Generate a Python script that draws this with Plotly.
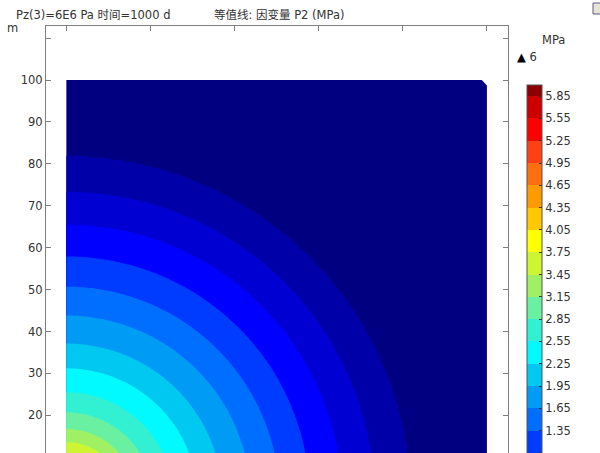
import numpy as np
import plotly.graph_objects as go

# P2 profile: radius from the corner (m) where each contour level sits
radius_m = [0.0, 10.5, 13.6, 16.7, 20.7, 25.5, 31.2, 37.1, 43.8, 50.7, 57.9, 65.5, 73.3, 81.7, 142.0]
p2_mpa = [6.0, 3.75, 3.45, 3.15, 2.85, 2.55, 2.25, 1.95, 1.65, 1.35, 1.05, 0.75, 0.45, 0.15, 0.0]

# contour levels shown on the colour bar
levels = [round(0.15 + 0.3 * i, 2) for i in range(20)]
level_labels = ['%.2f' % v for v in levels]

# band colours, lowest band (< 0.15) to highest (> 5.85)
band_colors = [
    (0, 0, 128), (0, 0, 168), (0, 0, 210), (0, 0, 255), (0, 60, 255),
    (0, 110, 255), (0, 155, 245), (0, 200, 240), (0, 250, 255), (50, 240, 210),
    (105, 240, 160), (160, 240, 100), (205, 245, 50), (255, 255, 0), (255, 200, 0),
    (255, 155, 0), (255, 110, 15), (255, 65, 20), (255, 0, 0), (205, 0, 0),
    (140, 0, 0),
]

y_ticks = [10, 20, 30, 40, 50, 60, 70, 80, 90, 100, 110]
y_ticktext = ['10', '20', '30', '40', '50', '60', '70', '80', '90', '100', '']
x_ticks = [0, 20, 40, 60, 80, 100]

# grid over the 100 x 100 m domain
xs = np.linspace(0, 100, 201)
ys = np.linspace(0, 100, 201)
X, Y = np.meshgrid(xs, ys)
Z = np.interp(np.hypot(X, Y), radius_m, p2_mpa)

n = len(band_colors) - 1
colorscale = [[i / n, 'rgb(%d,%d,%d)' % c] for i, c in enumerate(band_colors)]

W, H = 600, 453
ML, MR, MT, MB = 46, 92, 26, 0
PW, PH = W - ML - MR, H - MT - MB


def px(x):
    return (x - ML) / PW


def py(y):
    return (H - MB - y) / PH


font = 'DejaVu Sans, Noto Sans CJK SC, sans-serif'
txt = '#333333'

fig = go.Figure(go.Contour(
    x=xs, y=ys, z=Z,
    zmin=0, zmax=6,
    colorscale=colorscale,
    contours=dict(start=levels[0], end=levels[-1], size=0.3,
                  coloring='fill', showlines=False),
    line=dict(width=0),
    hoverinfo='skip',
    colorbar=dict(
        x=px(527), xanchor='left', xpad=0,
        y=py(85), yanchor='top', ypad=0,
        len=446, lenmode='pixels', thickness=15,
        outlinewidth=1, outlinecolor='#555555',
        tickvals=levels, ticktext=level_labels,
        ticks='inside', ticklen=3, tickcolor='#333333',
        tickfont=dict(family=font, size=11.5, color=txt),
    ),
))

# chamfered top-right corner of the geometry
fig.add_shape(type='path', path='M 98.7 100.05 L 100.1 100.05 L 100.1 98.6 Z',
              fillcolor='white', line=dict(width=0), layer='above')

# small toolbar icon cut off at the top right
fig.add_shape(type='rect', xref='paper', yref='paper',
              x0=px(593), x1=px(601), y0=py(14), y1=py(3),
              fillcolor='#e8e4d0', line=dict(color='#5a5a90', width=1))

# the bottom of the original frame is cropped away, so the x axis lives on top
fig.update_xaxes(
    range=[-4.8, 105], side='top', showgrid=False, zeroline=False,
    showline=True, linecolor='#7f7f7f', linewidth=1, mirror=False,
    ticks='inside', ticklen=5, tickcolor='#7f7f7f',
    tickvals=x_ticks, showticklabels=False,
)
fig.update_yaxes(
    range=[11.0, 112.9], showgrid=False, zeroline=False,
    showline=True, linecolor='#7f7f7f', linewidth=1, mirror='ticks',
    ticks='inside', ticklen=5, tickcolor='#7f7f7f',
    tickvals=y_ticks, ticktext=y_ticktext,
    tickfont=dict(family=font, size=11.5, color=txt),
)

ann = dict(xref='paper', yref='paper', showarrow=False,
           font=dict(family=font, size=11.5, color=txt))
fig.add_annotation(text='Pz(3)=6E6 Pa 时间=1000 d', x=px(14), y=py(15),
                   xanchor='left', yanchor='middle', **ann)
fig.add_annotation(text='等值线: 因变量 P2 (MPa)', x=px(212), y=py(15),
                   xanchor='left', yanchor='middle', **ann)
fig.add_annotation(text='m', x=px(5), y=py(28), xanchor='left', yanchor='middle', **ann)
fig.add_annotation(text='MPa', x=px(553), y=py(40), xanchor='center', yanchor='middle', **ann)
fig.add_annotation(text='<span style="color:black">▲</span> 6', x=px(515), y=py(57),
                   xanchor='left', yanchor='middle', **ann)

fig.update_layout(
    width=W, height=H,
    margin=dict(l=ML, r=MR, t=MT, b=MB, autoexpand=False),
    paper_bgcolor='white', plot_bgcolor='white',
    showlegend=False,
)

# drop the browser's default page margin so the figure sits at the window corner
fig.write_html('out.html', config={'displayModeBar': False},
               post_script="document.body.style.margin='0';")
